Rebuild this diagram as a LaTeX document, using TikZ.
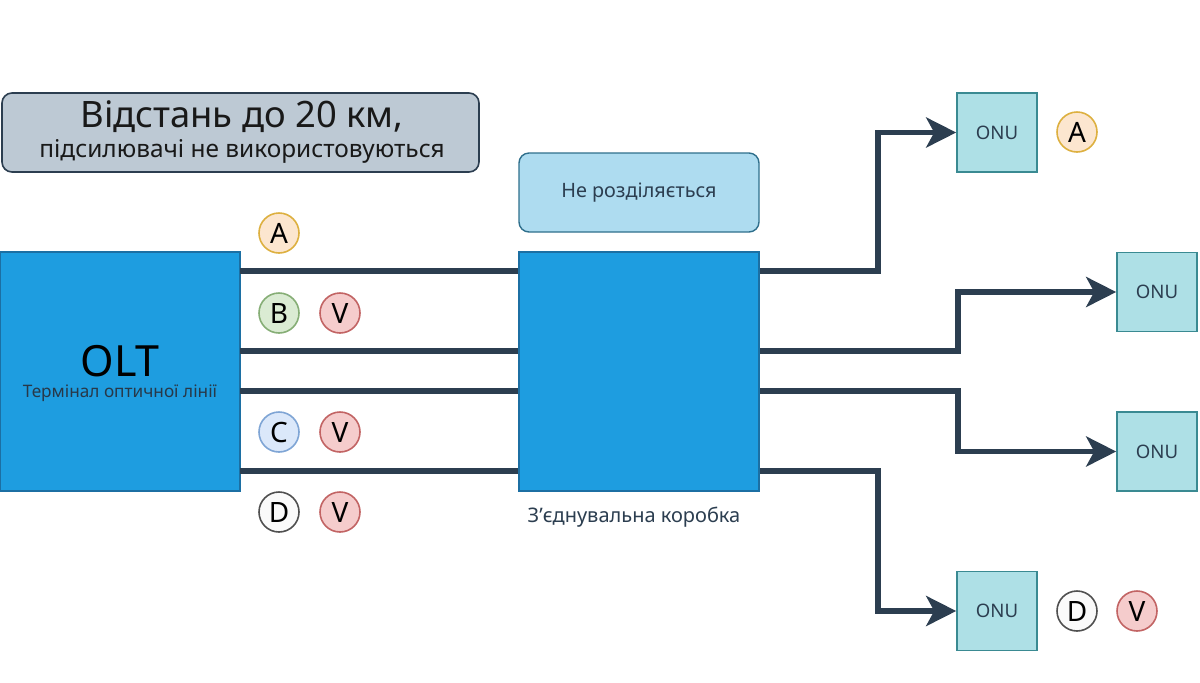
\documentclass[tikz,border=0pt]{standalone}
\usepackage{fontspec}
\setmainfont{Noto Sans}
\usetikzlibrary{arrows.meta}
\definecolor{bigblue}{HTML}{1E9DE0}
\definecolor{bigblueb}{HTML}{1C6FA3}
\definecolor{fibre}{HTML}{2C3E50}
\definecolor{notefill}{HTML}{BDC9D4}
\definecolor{splitfill}{HTML}{AEDCF0}
\definecolor{splitdraw}{HTML}{2F6F8C}
\definecolor{onufill}{HTML}{AEE0E6}
\definecolor{onudraw}{HTML}{3A8A92}
\definecolor{cAf}{HTML}{FCE6CF}\definecolor{cAd}{HTML}{DDB040}
\definecolor{cBf}{HTML}{DAEBD3}\definecolor{cBd}{HTML}{86AE76}
\definecolor{cCf}{HTML}{DBE8FA}\definecolor{cCd}{HTML}{7FA5D5}
\definecolor{cDf}{HTML}{FAFAFA}\definecolor{cDd}{HTML}{505050}
\definecolor{cVf}{HTML}{F5CCCC}\definecolor{cVd}{HTML}{C26464}
\tikzset{
  bigbox/.style={draw=bigblueb, line width=0.6pt, fill=bigblue, minimum width=120pt, minimum height=119.5pt, inner sep=0pt},
  onubox/.style={draw=onudraw, line width=0.8pt, fill=onufill, minimum width=40pt, minimum height=39.5pt, inner sep=0pt, font=\fontsize{9.3pt}{10pt}\selectfont, text=fibre},
  fiber/.style={draw=fibre, line width=2.6pt, line cap=butt, line join=miter},
  arr/.style={-{Stealth[length=15pt, width=15pt, inset=4pt]}},
  tag/.style={circle, line width=0.8pt, minimum size=20pt, inner sep=0pt, font=\fontsize{14pt}{15pt}\selectfont},
  tA/.style={tag, draw=cAd, fill=cAf},
  tB/.style={tag, draw=cBd, fill=cBf},
  tC/.style={tag, draw=cCd, fill=cCf},
  tD/.style={tag, draw=cDd, fill=cDf},
  tV/.style={tag, draw=cVd, fill=cVf},
}
\begin{document}
\begin{tikzpicture}[x=0.5pt, y=-0.5pt]
\path[use as bounding box, fill=white] (0,0) rectangle (1200,682);

% OLT
\node[bigbox] (olt) at (120,371.5) {};
\node[font=\fontsize{21.5pt}{22pt}\selectfont, text=black] (oltt) at (120,361) {OLT};
\node[font=\fontsize{8.6pt}{9pt}\selectfont\bfseries, text=fibre!90!black] (oltsub) at (120,393) {Термінал оптичної лінії};

% ONUs
\node[onubox] (onu1) at (997,132.5) {ONU};
\node[onubox] (onu2) at (1157,292) {ONU};
\node[onubox] (onu3) at (1157,451.5) {ONU};
\node[onubox] (onu4) at (997,611) {ONU};

% fibres
\coordinate (s1) at (240,271);
\coordinate (s2) at (240,351);
\coordinate (s3) at (240,391);
\coordinate (s4) at (240,471);
\draw[fiber, arr] (s1) -- (878,271) |- (onu1.west);
\draw[fiber, arr] (s2) -- (958,351) |- (onu2.west);
\draw[fiber, arr] (s3) -- (958,391) |- (onu3.west);
\draw[fiber, arr] (s4) -- (878,471) |- (onu4.west);

% junction box
\node[bigbox] (jbox) at (639,371.5) {};
\node[font=\fontsize{10pt}{11pt}\selectfont, text=fibre] (jlabel) at (634,517) {З'єднувальна коробка};

% not split note
\node[draw=splitdraw, line width=0.7pt, fill=splitfill, rounded corners=5pt, minimum width=120pt, minimum height=39.5pt, inner sep=0pt,
      font=\fontsize{9.9pt}{11pt}\selectfont, text=fibre] (nosplit) at (639,192.5) {\raisebox{1pt}{Не розділяється}};

% distance note
\node[draw=fibre, line width=0.8pt, fill=notefill, rounded corners=5pt, minimum width=238.5pt, minimum height=39.5pt, inner sep=0pt] (dist) at (240.5,132.5) {};
\node[font=\fontsize{18.2pt}{19pt}\selectfont, text=black!90] (dist1) at (242,117) {Відстань до 20 км,};
\node[font=\fontsize{12.2pt}{13pt}\selectfont, text=black!90] (dist2) at (242,151) {підсилювачі не використовуються};

% tags
\node[tA] (a1) at (279,233) {A};
\node[tB] (b1) at (279,313) {B};
\node[tV] (v1) at (340,313) {V};
\node[tC] (c1) at (279,432) {C};
\node[tV] (v2) at (340,432) {V};
\node[tD] (d1) at (279,512) {D};
\node[tV] (v3) at (340,512) {V};
\node[tA] (a2) at (1077,132) {A};
\node[tD] (d2) at (1077,611) {D};
\node[tV] (v4) at (1137,611) {V};
\end{tikzpicture}
\end{document}
